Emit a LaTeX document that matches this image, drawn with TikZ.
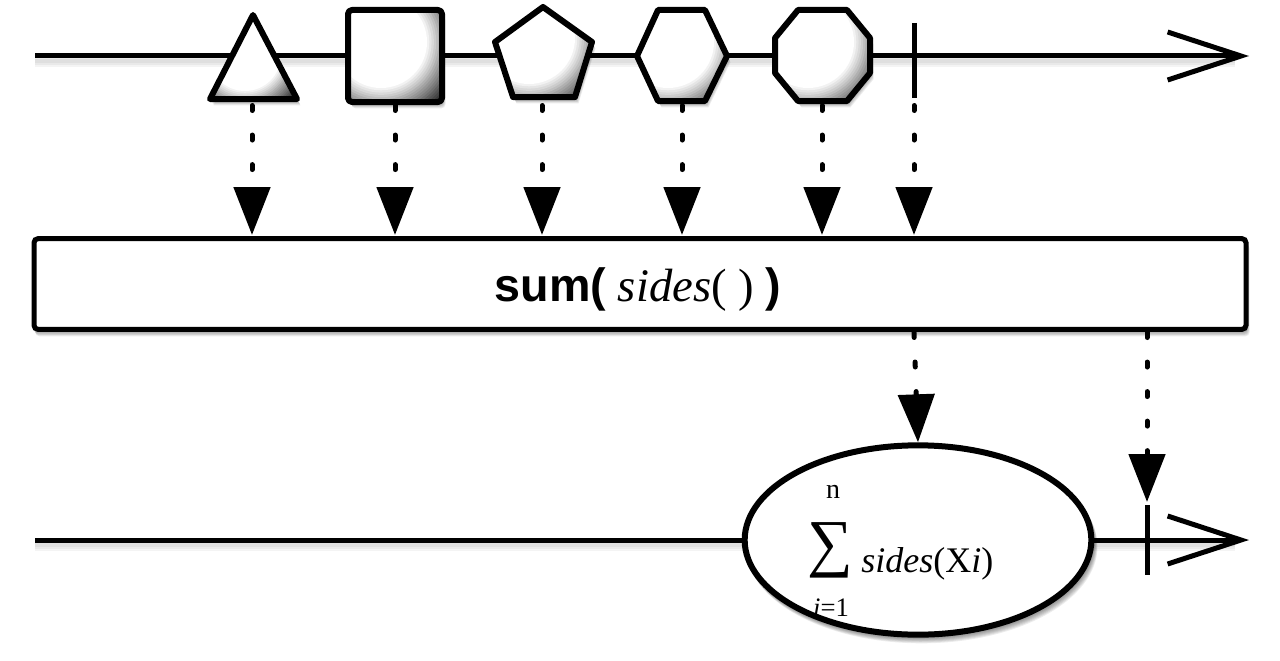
\documentclass[tikz,border=0pt]{standalone}
\usepackage{fontspec}
\setmainfont{Liberation Serif}
\setsansfont{Liberation Sans}
\usetikzlibrary{arrows.meta,shapes.geometric}
\tikzset{
  timeline/.style={line width=3.75pt, -{Straight Barb[length=55pt, width=36pt]}},
  tick/.style={line width=3.75pt},
  outline/.style={draw=black, line width=4.5pt, line join=round},
  dotarrow/.style={line width=3.75pt, line cap=round, dash pattern=on 3.75pt off 18.4pt,
    -{Triangle[length=36pt, width=27pt, fill=black]}},
  opbox/.style={draw=black, fill=white, line width=3.75pt, rounded corners=3pt,
    minimum width=909pt, minimum height=68pt, inner sep=0pt},
  result/.style={ellipse, draw=black, fill=white, line width=4.5pt, inner sep=0pt,
    minimum width=260pt, minimum height=142pt},
  lbl/.style={inner sep=0pt}
}
% soft shadow: several shifted translucent copies of a closed path
\newcommand\softshadow[1]{%
  \foreach \d in {1,...,7}{\fill[black, opacity=0.075, shift={(0.5*\d,0.9*\d)}] #1;}}
% glossy fill: white centre up-left, darkening toward lower-right
\newcommand\glossfill[4]{%
  \begin{scope}
  \clip #1;
  \foreach \k in {0,...,22}{%
    \pgfmathsetmacro\rr{(2.1-0.05*\k)*#4}%
    \pgfmathtruncatemacro\vv{max(0,min(88,((2.1-0.05*\k)-1.0)/0.85*88))}%
    \fill[black!\vv] (#2,#3) circle (\rr);
  }
  \end{scope}}
\newcommand\shapeTri{(253,15) -- (297,99) -- (210,99) -- cycle}
\newcommand\shapeSq{[rounded corners=3pt] (348,10) rectangle (442,102)}
\newcommand\shapePen{(543,7) -- (592,42) -- (575,97) -- (513,97) -- (495,42) -- cycle}
\newcommand\shapeHex{(637,56) -- (658,10) -- (705,10) -- (727,56) -- (705,101) -- (658,101) -- cycle}
\newcommand\shapeOct{(798,10) -- (847,10) -- (870,38) -- (870,73) -- (847,101) -- (798,101) -- (775,73) -- (775,38) -- cycle}
\begin{document}
\begin{tikzpicture}[x=0.75pt,y=-0.75pt]
\useasboundingbox (0,0) rectangle (1280,660);
% timeline shadows
\foreach \d in {3,5,7}{%
  \draw[black, opacity=0.045, line width=6pt] (35,56+\d) -- (1235,56+\d);
  \draw[black, opacity=0.045, line width=6pt] (35,540+\d) -- (1235,540+\d);}
% top timeline
\coordinate (t0) at (35,56);
\coordinate (t1) at (1249,56);
\draw[timeline] (t0) -- (t1);
% shapes
\softshadow{\shapeTri}
\glossfill{\shapeTri}{245}{55}{36}
\draw[outline] \shapeTri;
\softshadow{\shapeSq}
\glossfill{\shapeSq}{381}{42}{46}
\draw[outline] \shapeSq;
\softshadow{\shapePen}
\glossfill{\shapePen}{529}{38}{46}
\draw[outline] \shapePen;
\softshadow{\shapeHex}
\glossfill{\shapeHex}{668}{42}{46}
\draw[outline] \shapeHex;
\softshadow{\shapeOct}
\glossfill{\shapeOct}{808}{42}{46}
\draw[outline] \shapeOct;
\coordinate (ka) at (914,23);
\coordinate (kb) at (914,98);
\draw[tick] (ka) -- (kb);
% operator box
\softshadow{[rounded corners=3pt] (32,238) rectangle (1246,330)}
\node[opbox] (box) at (640,284) {};
\node[lbl] (optext) at (638,290) {\fontsize{35pt}{42pt}\selectfont{\sffamily\bfseries sum(} {\itshape sides}( ) {\sffamily\bfseries )}};
% dotted arrows down to box
\foreach \x/\n in {252/a,395/b,542/c,682/d,822/e,914/f}{
  \coordinate (s\n) at (\x,105.5);
  \coordinate (e\n) at (\x,235);
  \draw[dotarrow] (s\n) -- (e\n);
}
% bottom timeline
\coordinate (b0) at (35,540);
\coordinate (b1) at (1249,540);
\draw[timeline] (b0) -- (b1);
\softshadow{(918,540) ellipse [x radius=176, y radius=97]}
\node[result] (res) at (918,540) {};
\coordinate (kc) at (1147,505);
\coordinate (kd) at (1147,575);
\draw[tick] (kc) -- (kd);
% dotted arrows from box
\coordinate (s1) at (914,332.5);
\coordinate (s2) at (1147,332.5);
\coordinate (e2) at (1147,502);
\draw[dotarrow] (s1) -- (res.north);
\draw[dotarrow] (s2) -- (e2);
% formula
\node[lbl] (sig) at (830,550) {\fontsize{48pt}{54pt}\selectfont ∑};
\node[lbl] (up) at (833,492) {\fontsize{21pt}{24pt}\selectfont n};
\node[lbl] (lo) at (831,608) {\fontsize{20pt}{24pt}\selectfont\textit{i}=1};
\node[lbl, anchor=base west] (fx) at (861,572) {\fontsize{27pt}{32pt}\selectfont\textit{sides}(X\textit{i})};
\end{tikzpicture}
\end{document}
